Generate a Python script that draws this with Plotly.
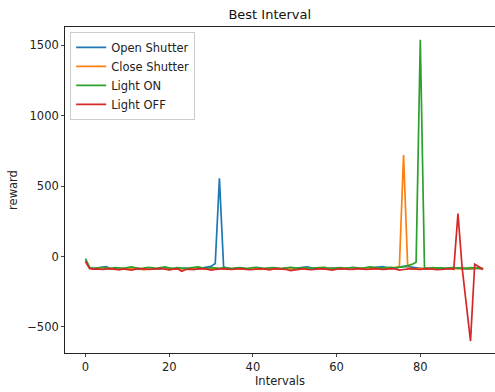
import plotly.graph_objects as go

intervals = list(range(96))

open_shutter = [
    -30, -82, -85, -80, -76, -72, -86, -88, -84, -90,
    -86, -83, -88, -92, -85, -80, -84, -89, -87, -83,
    -86, -90, -88, -84, -82, -87, -91, -86, -80, -78,
    -70, -50, 555, -75, -84, -88, -85, -82, -86, -90,
    -84, -80, -83, -88, -86, -84, -89, -85, -82, -86,
    -88, -80, -76, -74, -80, -86, -84, -88, -85, -82,
    -86, -90, -84, -80, -78, -84, -88, -86, -83, -80,
    -74, -72, -78, -84, -80, -75, -70, -72, -76, -80,
    -85, -88, -84, -86, -82, -85, -88, -86, -84, -80,
    -86, -88, -90, -85, -82, -92,
]

close_shutter = [
    -25, -80, -88, -84, -90, -82, -86, -92, -88, -84,
    -90, -86, -82, -88, -94, -86, -84, -88, -80, -86,
    -92, -88, -84, -86, -90, -88, -84, -82, -86, -90,
    -88, -84, -86, -90, -92, -86, -84, -88, -90, -86,
    -82, -88, -92, -86, -84, -88, -90, -86, -82, -84,
    -88, -92, -86, -84, -88, -90, -86, -84, -82, -88,
    -90, -86, -84, -88, -92, -86, -82, -84, -88, -86,
    -84, -88, -86, -82, -80, -75, 720, -82, -86, -88,
    -84, -86, -90, -88, -84, -86, -88, -80, -84, -88,
    -86, -84, -88, -82, -86, -88,
]

light_on = [
    -15, -78, -84, -80, -76, -82, -86, -78, -80, -84,
    -78, -74, -80, -86, -82, -76, -80, -84, -78, -74,
    -80, -84, -78, -82, -86, -80, -76, -74, -82, -86,
    -78, -80, -84, -78, -82, -86, -80, -78, -82, -84,
    -78, -76, -82, -84, -80, -78, -82, -86, -80, -76,
    -80, -84, -78, -82, -86, -80, -78, -76, -82, -84,
    -80, -78, -84, -82, -76, -80, -84, -78, -74, -76,
    -80, -82, -78, -76, -80, -78, -72, -64, -56, -40,
    1540, -80, -84, -78, -82, -80, -84, -80, -78, -82,
    -80, -84, -78, -82, -80, -86,
]

light_off = [
    -35, -86, -90, -88, -92, -88, -86, -90, -94, -88,
    -92, -96, -90, -86, -88, -92, -90, -86, -84, -90,
    -94, -90, -86, -104, -92, -90, -92, -88, -86, -90,
    -96, -92, -88, -86, -90, -92, -88, -86, -90, -94,
    -92, -88, -86, -90, -94, -88, -86, -90, -92, -100,
    -96, -88, -86, -92, -94, -90, -86, -88, -92, -96,
    -90, -86, -88, -92, -90, -86, -88, -92, -90, -86,
    -88, -92, -90, -86, -88, -96, -92, -88, -86, -90,
    -92, -88, -86, -90, -94, -92, -88, -86, -90, 305,
    -80, -340, -600, -55, -70, -90,
]

series_names = ["Open Shutter", "Close Shutter", "Light ON", "Light OFF"]
series_values = [open_shutter, close_shutter, light_on, light_off]
colors = ["#1f77b4", "#ff7f0e", "#2ca02c", "#d62728"]

x_ticks = [0, 20, 40, 60, 80]
y_ticks = [-500, 0, 500, 1000, 1500]
y_tick_labels = ["\u2212500", "0", "500", "1000", "1500"]

fig = go.Figure()
for name, vals, c in zip(series_names, series_values, colors):
    fig.add_trace(go.Scatter(x=intervals, y=vals, mode="lines", name=name,
                             line=dict(color=c, width=1.7)))

font = "DejaVu Sans"
fs = 11.5
fig.update_layout(
    width=495, height=392,
    margin=dict(l=65, r=0, t=27, b=39),
    paper_bgcolor="white", plot_bgcolor="white",
    font=dict(family=font, size=fs, color="#222"),
    title=dict(text="Best Interval", x=0.545, xanchor="center", y=0.963, yanchor="middle",
               font=dict(family=font, size=13, color="#111")),
    showlegend=True,
    legend=dict(x=0.012, y=0.985, xanchor="left", yanchor="top",
                bgcolor="rgba(255,255,255,0.8)", bordercolor="#ccc", borderwidth=1,
                font=dict(family=font, size=fs, color="#222"),
                tracegroupgap=0, itemwidth=30),
)
fig.update_xaxes(range=[-4.9, 97.85], tickvals=x_ticks, ticks="outside", ticklen=3,
                 showline=True, linecolor="#222", linewidth=0.8, mirror=True,
                 showgrid=False, zeroline=False,
                 title=dict(text="Intervals", standoff=0, font=dict(family=font, size=fs)))
fig.update_yaxes(range=[-685, 1630], tickvals=y_ticks, ticktext=y_tick_labels,
                 ticks="outside", ticklen=3,
                 showline=True, linecolor="#222", linewidth=0.8, mirror=True,
                 showgrid=False, zeroline=False,
                 title=dict(text="reward", standoff=7, font=dict(family=font, size=fs)))

fig.write_html("out.html")
